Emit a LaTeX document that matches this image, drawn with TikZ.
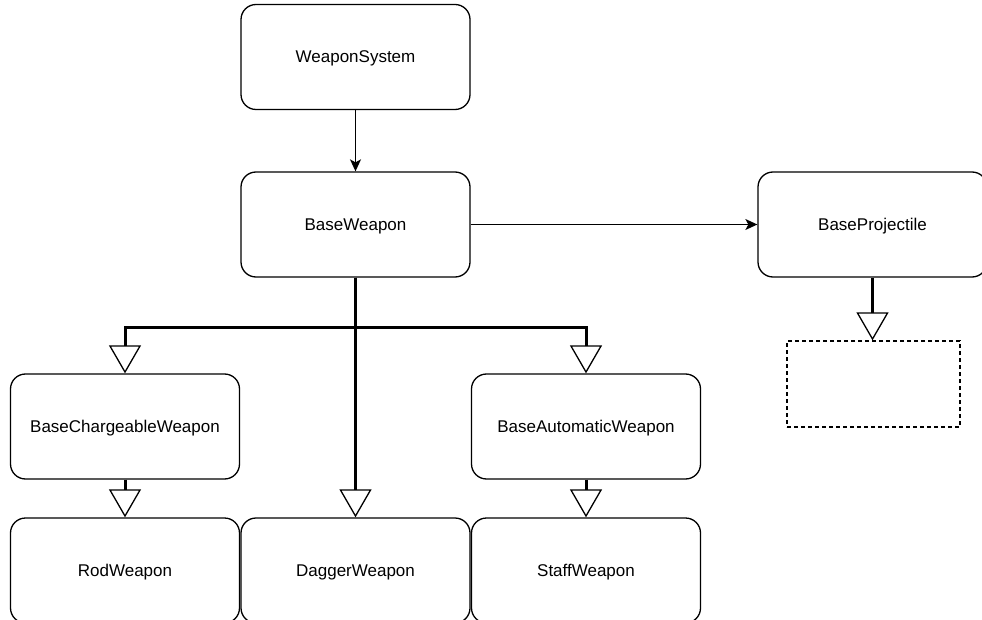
\documentclass[tikz,border=0pt]{standalone}
\usepackage{fontspec}
\setmainfont{Liberation Sans}
\usetikzlibrary{arrows.meta}
\begin{document}
\begin{tikzpicture}[x=1pt,y=-1pt,
  box/.style={draw, line width=1.3pt, rounded corners=15pt,
    minimum width=229pt, minimum height=105pt, inner sep=0pt,
    text depth=0pt, font=\fontsize{17}{20}\selectfont},
  ghost/.style={draw, line width=1.3pt, dash pattern=on 4pt off 3pt,
    minimum width=173pt, minimum height=86pt, inner sep=0pt},
  assoc/.style={line width=1.3pt, -{Stealth[length=12pt,width=11pt,inset=3pt]}},
  inherit/.style={line width=3pt,
    -{Triangle[open,length=28pt,width=32pt,line width=1.3pt]}}]
\useasboundingbox (0,0) rectangle (982,620);
\clip (0,0) rectangle (982,620);

% class boxes
\node[box] (ws)    at (355.5,57)    {WeaponSystem};
\node[box] (bw)    at (355.5,224.5) {BaseWeapon};
\node[box] (bp)    at (872.5,224.5) {BaseProjectile};
\node[ghost] (sub) at (873.5,384)   {};
\node[box] (bcw)   at (125,426.5)   {BaseChargeableWeapon};
\node[box] (baw)   at (586,426.5)   {BaseAutomaticWeapon};
\node[box] (rod)   at (125,570.5)   {RodWeapon};
\node[box] (dag)   at (355.5,570.5) {DaggerWeapon};
\node[box] (staff) at (586,570.5)   {StaffWeapon};

% associations
\draw[assoc] (ws) -- (bw);
\draw[assoc] (bw) -- (bp);

% inheritance
\draw[inherit] (bp.south) -- (bp.south |- sub.north);
\draw[inherit] (bw.south) -- ++(0,50) -| (bcw.north);
\draw[inherit] (bw.south) -- ++(0,50) -| (baw.north);
\draw[inherit] (bw) -- (dag);
\draw[inherit] (bcw) -- (rod);
\draw[inherit] (baw) -- (staff);
\end{tikzpicture}
\end{document}
